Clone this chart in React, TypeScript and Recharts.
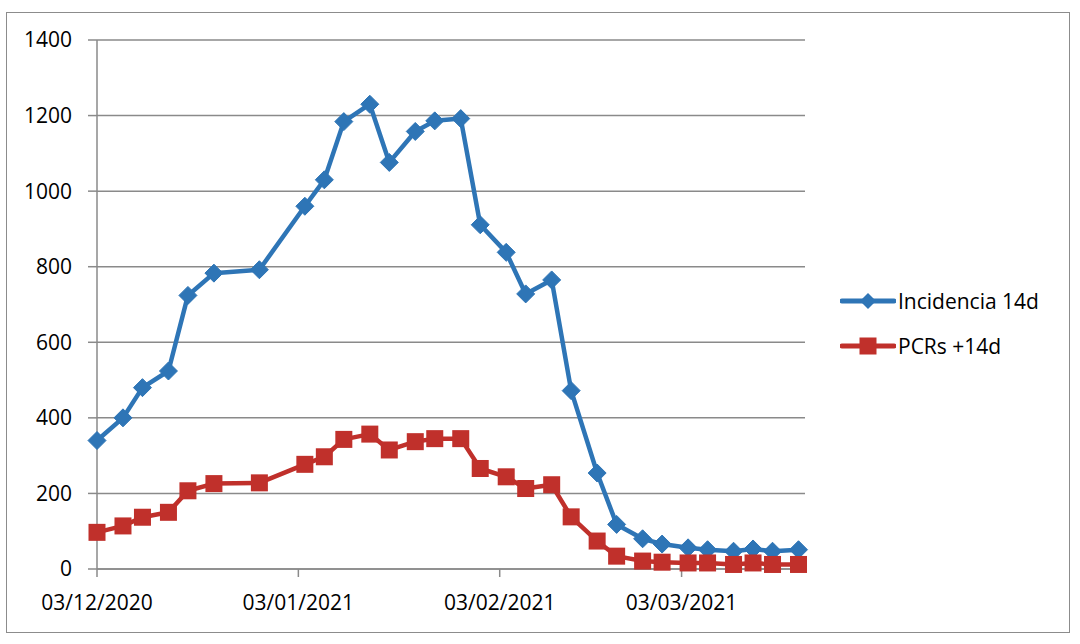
import React from "react";
import { LineChart, Line, XAxis, YAxis, CartesianGrid, Legend } from "recharts";

const dates = [
  "2020-12-03", "2020-12-07", "2020-12-10", "2020-12-14", "2020-12-17", "2020-12-21",
  "2020-12-28", "2021-01-04", "2021-01-07", "2021-01-10", "2021-01-14", "2021-01-17",
  "2021-01-21", "2021-01-24", "2021-01-28", "2021-01-31", "2021-02-04", "2021-02-07",
  "2021-02-11", "2021-02-14", "2021-02-18", "2021-02-21", "2021-02-25", "2021-02-28",
  "2021-03-04", "2021-03-07", "2021-03-11", "2021-03-14", "2021-03-17", "2021-03-21",
];

const incidencia = [
  340, 400, 480, 524, 724, 783, 792, 960, 1030, 1184, 1230, 1076, 1158, 1186, 1192,
  911, 838, 728, 765, 472, 254, 118, 80, 66, 56, 51, 47, 53, 47, 51,
];

const pcrs = [
  97, 114, 137, 150, 207, 226, 228, 277, 297, 343, 357, 315, 337, 345, 345,
  266, 244, 213, 223, 138, 74, 34, 21, 18, 16, 16, 12, 16, 12, 12,
];

const xTickDates = ["2020-12-03", "2021-01-03", "2021-02-03", "2021-03-03"];
const xDomainDates = ["2020-12-03", "2021-03-22"];
const yTicks = [0, 200, 400, 600, 800, 1000, 1200, 1400];

const seriesNames = ["Incidencia 14d", "PCRs +14d"];

const BLUE = "#2E75B6";
const RED = "#C0302B";
const GRID = "#8a8a8a";
const FONT = "'Open Sans', 'Noto Sans', sans-serif";

const toTs = (s: string) => {
  const [y, m, d] = s.split("-").map(Number);
  return Date.UTC(y, m - 1, d);
};

const data = dates.map((d, i) => ({
  t: toTs(d),
  inc: incidencia[i],
  pcr: pcrs[i],
}));

const fmt = (v: number) => {
  const d = new Date(v);
  const dd = String(d.getUTCDate()).padStart(2, "0");
  const mm = String(d.getUTCMonth() + 1).padStart(2, "0");
  return `${dd}/${mm}/${d.getUTCFullYear()}`;
};

const Diamond = (props: any) => {
  const { cx, cy, index } = props;
  if (cx == null || cy == null) return <g key={index} />;
  const r = 9;
  return (
    <polygon
      key={index}
      points={`${cx},${cy - r} ${cx + r},${cy} ${cx},${cy + r} ${cx - r},${cy}`}
      fill={BLUE}
      stroke={BLUE}
      strokeWidth={1}
    />
  );
};

const Square = (props: any) => {
  const { cx, cy, index } = props;
  if (cx == null || cy == null) return <g key={index} />;
  const s = 17;
  return <rect key={index} x={cx - s / 2} y={cy - s / 2} width={s} height={s} fill={RED} />;
};

const renderLegend = () => {
  const items = [
    { name: seriesNames[0], color: BLUE, shape: "diamond" },
    { name: seriesNames[1], color: RED, shape: "square" },
  ];
  return (
    <div style={{ fontFamily: FONT, fontSize: 21, color: "#000" }}>
      {items.map((it, i) => (
        <div key={i} style={{ display: "flex", alignItems: "center", height: 45 }}>
          <svg width={56} height={24} style={{ display: "block" }}>
            <line x1={2} y1={12} x2={54} y2={12} stroke={it.color} strokeWidth={5} strokeLinecap="round" />
            {it.shape === "diamond" ? (
              <polygon points="28,4 36,12 28,20 20,12" fill={it.color} />
            ) : (
              <rect x={19.5} y={3.5} width={17} height={17} fill={it.color} />
            )}
          </svg>
          <span style={{ marginLeft: 2, lineHeight: "24px" }}>{it.name}</span>
        </div>
      ))}
    </div>
  );
};

export default function App() {
  return (
    <div style={{ position: "absolute", left: 0, top: 0, width: 1080, height: 644, background: "#fff" }}>
      <div
        style={{
          position: "absolute",
          left: 6,
          top: 12,
          width: 1064,
          height: 621,
          border: "1.5px solid #8c8c8c",
          boxSizing: "border-box",
        }}
      />
      <div style={{ position: "absolute", left: 0, top: 0 }}>
        <LineChart
          width={1080}
          height={644}
          data={data}
          margin={{ top: 40, right: 275, bottom: 25, left: 0 }}
        >
          <CartesianGrid vertical={false} stroke={GRID} strokeWidth={1.5} />
          <XAxis
            dataKey="t"
            type="number"
            domain={xDomainDates.map(toTs)}
            ticks={xTickDates.map(toTs)}
            tickFormatter={fmt}
            height={50}
            tickSize={8}
            tickMargin={18}
            axisLine={{ stroke: GRID, strokeWidth: 1.5 }}
            tickLine={{ stroke: GRID, strokeWidth: 1.5 }}
            tick={{ fill: "#000", fontSize: 21, fontFamily: FONT }}
            interval={0}
          />
          <YAxis
            domain={[0, 1400]}
            ticks={yTicks}
            width={97}
            tickSize={9}
            tickMargin={16}
            axisLine={{ stroke: GRID, strokeWidth: 1.5 }}
            tickLine={{ stroke: GRID, strokeWidth: 1.5 }}
            tick={{ fill: "#000", fontSize: 21, fontFamily: FONT }}
            interval={0}
          />
          <Legend
            layout="vertical"
            align="center"
            verticalAlign="middle"
            content={renderLegend}
            wrapperStyle={{ position: "absolute", left: 840, top: 278, width: 235 }}
          />
          <Line
            type="linear"
            dataKey="inc"
            name={seriesNames[0]}
            stroke={BLUE}
            strokeWidth={4.5}
            strokeLinejoin="round"
            dot={Diamond}
            activeDot={false}
            isAnimationActive={false}
          />
          <Line
            type="linear"
            dataKey="pcr"
            name={seriesNames[1]}
            stroke={RED}
            strokeWidth={4.5}
            strokeLinejoin="round"
            dot={Square}
            activeDot={false}
            isAnimationActive={false}
          />
        </LineChart>
      </div>
    </div>
  );
}
